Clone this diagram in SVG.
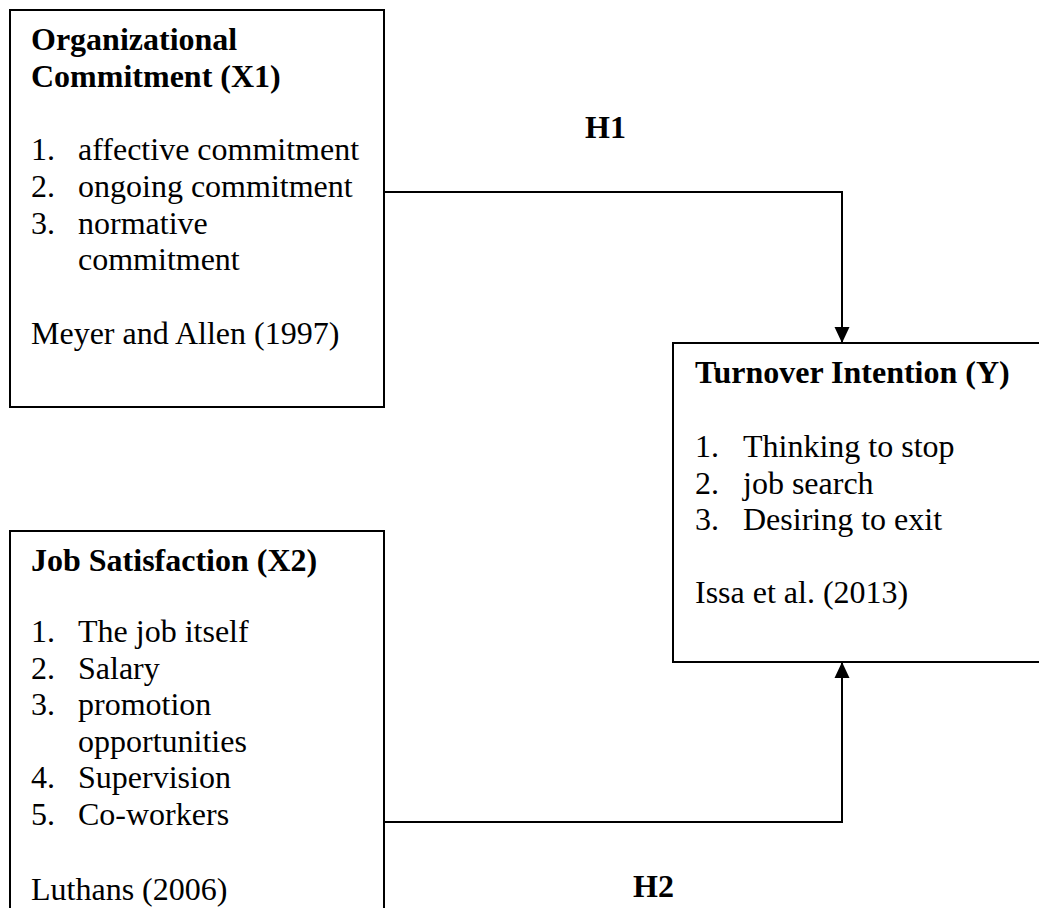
<svg xmlns="http://www.w3.org/2000/svg" width="1039" height="908" viewBox="0 0 1039 908">
<style>
.box{fill:#fff;stroke:#000;stroke-width:2}
.t{font-family:"Liberation Serif","Times New Roman",serif;font-size:32px;fill:#000}
.b{font-weight:bold}
.c{fill:none;stroke:#000;stroke-width:2}
</style>
<defs>
<marker id="ah" markerUnits="userSpaceOnUse" markerWidth="16" markerHeight="16" viewBox="0 0 16 16" refX="16" refY="8" orient="auto">
<path d="M0,0.5 L16,8 L0,15.5 Z" fill="#000"/>
</marker>
</defs>
<rect width="1039" height="908" fill="#fff"/>
<g id="connectors">
<path class="c" d="M384,192 H842 V343" marker-end="url(#ah)"/>
<path class="c" d="M384,822 H842 V662" marker-end="url(#ah)"/>
<text class="t b" x="585" y="138">H1</text>
<text class="t b" x="633" y="897">H2</text>
</g>
<g id="organizational-commitment">
<rect class="box" x="10" y="10" width="374" height="397"/>
<text class="t b" x="31" y="50">Organizational</text>
<text class="t b" x="31" y="87">Commitment (X1)</text>
<text class="t" x="31" y="160">1.</text><text class="t" x="78" y="160">affective commitment</text>
<text class="t" x="31" y="197">2.</text><text class="t" x="78" y="197">ongoing commitment</text>
<text class="t" x="31" y="234">3.</text><text class="t" x="78" y="234">normative</text>
<text class="t" x="78" y="270">commitment</text>
<text class="t" x="31" y="344">Meyer and Allen (1997)</text>
</g>
<g id="turnover-intention">
<rect class="box" x="673" y="343" width="400" height="319"/>
<text class="t b" x="695" y="383">Turnover Intention (Y)</text>
<text class="t" x="695" y="457">1.</text><text class="t" x="743" y="457">Thinking to stop</text>
<text class="t" x="695" y="494">2.</text><text class="t" x="743" y="494">job search</text>
<text class="t" x="695" y="530">3.</text><text class="t" x="743" y="530">Desiring to exit</text>
<text class="t" x="695" y="603">Issa et al. (2013)</text>
</g>
<g id="job-satisfaction">
<rect class="box" x="10" y="531" width="374" height="400"/>
<text class="t b" x="31" y="571">Job Satisfaction (X2)</text>
<text class="t" x="31" y="642">1.</text><text class="t" x="78" y="642">The job itself</text>
<text class="t" x="31" y="679">2.</text><text class="t" x="78" y="679">Salary</text>
<text class="t" x="31" y="715">3.</text><text class="t" x="78" y="715">promotion</text>
<text class="t" x="78" y="752">opportunities</text>
<text class="t" x="31" y="788">4.</text><text class="t" x="78" y="788">Supervision</text>
<text class="t" x="31" y="825">5.</text><text class="t" x="78" y="825">Co-workers</text>
<text class="t" x="31" y="900">Luthans (2006)</text>
</g>
</svg>
